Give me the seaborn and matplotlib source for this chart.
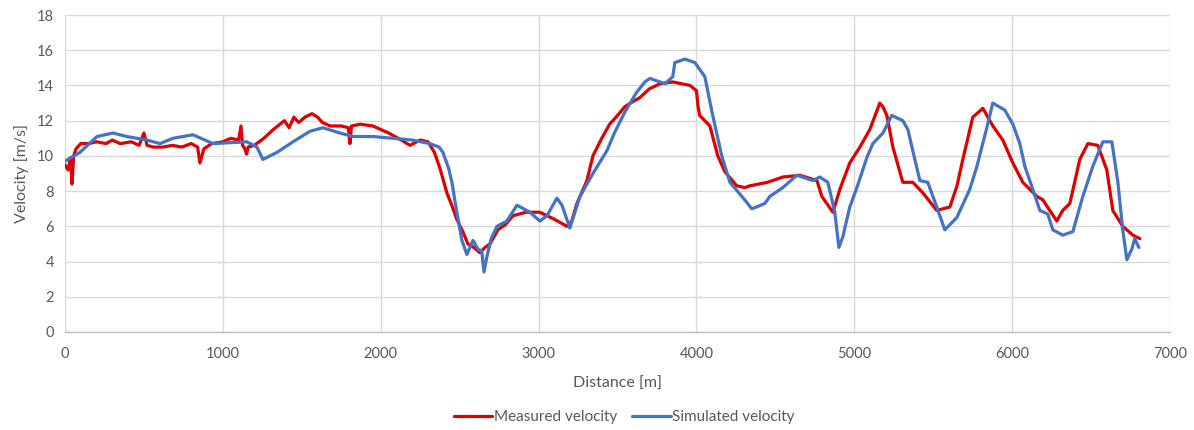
import matplotlib
matplotlib.use("Agg")
import matplotlib.pyplot as plt
import numpy as np
import pandas as pd
import seaborn as sns

# measured velocity (red)
measured_x = [0, 20, 35, 45, 55, 70, 100, 150, 200, 260, 300, 350, 420, 470, 500, 520, 560, 620, 680, 740,
              800, 840, 855, 880, 930, 1000, 1050, 1100, 1115, 1125, 1140, 1150, 1160, 1200, 1260, 1320, 1390,
              1420, 1450, 1480, 1520, 1565, 1600, 1630, 1680, 1750, 1795, 1805, 1815, 1870, 1950, 2000, 2050,
              2090, 2130, 2185, 2250, 2300, 2340, 2375, 2419, 2450, 2482, 2520, 2552, 2590, 2628, 2660, 2692,
              2742, 2790, 2837, 2920, 3008, 3100, 3180, 3210, 3243, 3306, 3344, 3400, 3450, 3500, 3547, 3600,
              3640, 3700, 3770, 3850, 3960, 4000, 4010, 4020, 4085, 4135, 4180, 4255, 4306, 4338, 4450, 4547,
              4655, 4763, 4794, 4864, 4908, 4971, 5035, 5098, 5161, 5180, 5206, 5244, 5307, 5370, 5434, 5522,
              5605, 5650, 5687, 5750, 5814, 5877, 5940, 6004, 6067, 6156, 6194, 6282, 6320, 6365, 6428, 6479,
              6542, 6599, 6637, 6700, 6764, 6808]
measured_v = [9.5, 9.2, 9.9, 8.4, 10.0, 10.4, 10.7, 10.7, 10.8, 10.7, 10.9, 10.7, 10.8, 10.6, 11.3, 10.6, 10.5,
              10.5, 10.6, 10.5, 10.7, 10.5, 9.6, 10.4, 10.7, 10.8, 11.0, 10.9, 11.7, 10.6, 10.4, 10.1, 10.5, 10.6,
              11.0, 11.5, 12.0, 11.6, 12.2, 11.9, 12.2, 12.4, 12.2, 11.9, 11.7, 11.7, 11.6, 10.7, 11.7, 11.8, 11.7,
              11.5, 11.3, 11.1, 10.9, 10.6, 10.9, 10.8, 10.2, 9.3, 7.9, 7.2, 6.4, 5.7, 5.0, 4.8, 4.5, 4.8, 5.0,
              5.8, 6.1, 6.6, 6.8, 6.8, 6.4, 6.0, 6.3, 7.3, 8.6, 10.0, 11.0, 11.8, 12.3, 12.8, 13.1, 13.3, 13.8,
              14.1, 14.2, 14.0, 13.7, 12.8, 12.3, 11.7, 10.0, 9.1, 8.3, 8.2, 8.3, 8.5, 8.8, 8.9, 8.6, 7.7, 6.8,
              8.1, 9.6, 10.5, 11.5, 13.0, 12.8, 12.3, 10.5, 8.5, 8.5, 7.9, 6.9, 7.1, 8.3, 9.8, 12.2, 12.7, 11.7,
              10.9, 9.6, 8.5, 7.7, 7.5, 6.3, 6.9, 7.3, 9.8, 10.7, 10.6, 9.2, 6.9, 6.0, 5.5, 5.3]

# simulated velocity (blue)
simulated_x = [0, 95, 203, 304, 392, 519, 602, 684, 811, 937, 1152, 1216, 1254, 1343, 1444, 1552, 1634, 1742,
               1824, 1950, 2077, 2200, 2310, 2370, 2394, 2430, 2451, 2482, 2514, 2546, 2584, 2616, 2640, 2654,
               2673, 2700, 2736, 2799, 2863, 2945, 3008, 3053, 3116, 3148, 3198, 3262, 3344, 3433, 3480, 3547,
               3620, 3673, 3705, 3800, 3850, 3863, 3926, 3990, 4053, 4098, 4160, 4212, 4306, 4350, 4380, 4433,
               4465, 4547, 4636, 4737, 4781, 4832, 4876, 4902, 4927, 4971, 5016, 5079, 5117, 5181, 5237, 5307,
               5339, 5383, 5415, 5465, 5522, 5573, 5649, 5731, 5776, 5839, 5877, 5953, 6004, 6048, 6080, 6130,
               6175, 6225, 6257, 6320, 6384, 6447, 6510, 6574, 6631, 6669, 6700, 6726, 6757, 6776, 6802]
simulated_v = [9.7, 10.2, 11.1, 11.3, 11.1, 10.9, 10.7, 11.0, 11.2, 10.7, 10.8, 10.5, 9.8, 10.2, 10.8, 11.4,
               11.6, 11.3, 11.1, 11.1, 11.0, 10.9, 10.7, 10.5, 10.2, 9.3, 8.5, 6.8, 5.2, 4.4, 5.2, 4.7, 4.6, 3.4,
               4.3, 5.3, 6.0, 6.3, 7.2, 6.8, 6.3, 6.6, 7.6, 7.2, 5.9, 7.7, 9.0, 10.3, 11.3, 12.5, 13.6, 14.2,
               14.4, 14.1, 14.5, 15.3, 15.5, 15.3, 14.5, 12.5, 10.0, 8.5, 7.5, 7.0, 7.1, 7.3, 7.7, 8.2, 8.9, 8.6,
               8.8, 8.5, 6.8, 4.8, 5.4, 7.1, 8.2, 9.9, 10.7, 11.3, 12.3, 12.0, 11.5, 9.8, 8.6, 8.5, 7.1, 5.8,
               6.5, 8.1, 9.4, 11.6, 13.0, 12.6, 11.8, 10.7, 9.4, 8.1, 6.9, 6.7, 5.8, 5.5, 5.7, 7.7, 9.4, 10.8,
               10.8, 8.5, 5.8, 4.1, 4.7, 5.3, 4.8]

series_names = ["Measured velocity", "Simulated velocity"]
series_colors = ["#E00000", "#4472C4"]

df = pd.concat([
    pd.DataFrame({"Distance": measured_x, "Velocity": measured_v, "series": series_names[0]}),
    pd.DataFrame({"Distance": simulated_x, "Velocity": simulated_v, "series": series_names[1]}),
], ignore_index=True)

sns.set_style("white")
plt.rcParams["font.family"] = ["Lato", "DejaVu Sans"]

fig = plt.figure(figsize=(11.94, 4.30), dpi=100)
ax = fig.add_axes([0.0544, 0.228, 0.9256, 0.737])

sns.lineplot(
    data=df, x="Distance", y="Velocity", hue="series",
    palette=dict(zip(series_names, series_colors)),
    estimator=None, sort=False, linewidth=2.3, ax=ax,
)

ax.set_xlim(0, 7000)
ax.set_ylim(0, 18)
ax.set_xticks(np.arange(0, 7001, 1000))
ax.set_yticks(np.arange(0, 19, 2))
ax.grid(True, color="#D9D9D9", linewidth=1)
ax.set_axisbelow(True)
for side in ["top", "right", "left"]:
    ax.spines[side].set_visible(False)
ax.spines["bottom"].set_color("#BFBFBF")
ax.spines["bottom"].set_linewidth(1)
ax.tick_params(axis="x", length=5, color="#BFBFBF", labelsize=10.5, labelcolor="#595959", pad=6)
ax.tick_params(axis="y", length=0, labelsize=10.5, labelcolor="#595959", pad=8)

ax.set_xlabel("Distance [m]", fontsize=11.5, color="#595959", labelpad=11)
ax.set_ylabel("Velocity [m/s]", fontsize=11.5, color="#595959", labelpad=6)

handles, labels = ax.get_legend_handles_labels()
ax.get_legend().remove()
fig.legend(handles, labels, loc="center", bbox_to_anchor=(0.523, 0.03), ncol=2,
           frameon=False, fontsize=11, labelcolor="#595959", handlelength=2.5,
           handletextpad=0.1, columnspacing=1.0)

fig.savefig("out.png", dpi=100)
